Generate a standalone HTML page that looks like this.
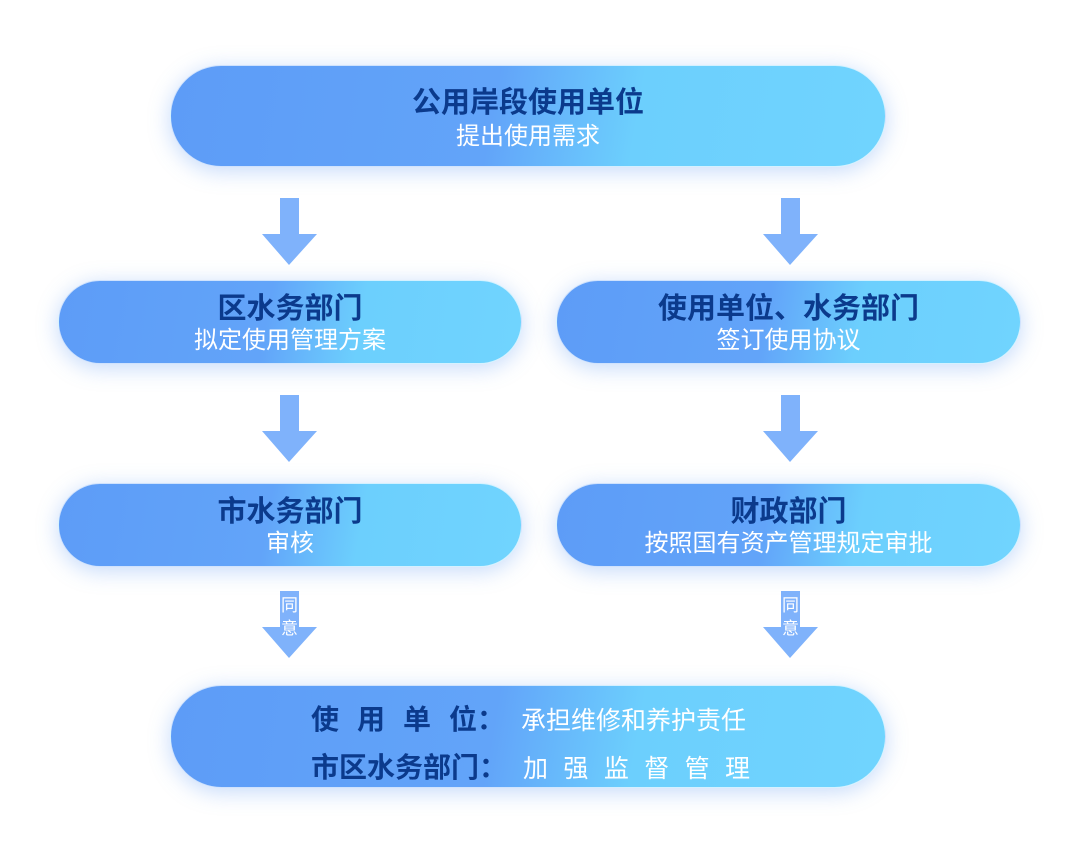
<!DOCTYPE html>
<html><head><meta charset="utf-8"><style>
*{margin:0;padding:0;box-sizing:border-box}
body{width:1080px;height:847px;background:#fff;position:relative;overflow:hidden;font-family:"Liberation Sans","Noto Sans CJK SC",sans-serif}
.pill{position:absolute;border-radius:60px;background:linear-gradient(100deg,#5d9cf7 0%,#62a4f9 45%,#6ccffd 65%,#70d4fe 100%);box-shadow:0 4px 22px rgba(90,150,240,.35);border:1.5px solid rgba(255,255,255,.7);text-align:center}
.t{color:#0b3a8c;font-weight:bold;font-size:29px;line-height:34px;position:absolute;left:0;right:0;white-space:nowrap}
.s{color:#fff;font-size:24px;line-height:30px;position:absolute;left:0;right:0;white-space:nowrap}
</style></head><body>
<div class="pill" style="left:170px;top:65px;width:716px;height:102px">
<div class="t" style="top:20px">公用岸段使用单位</div><div class="s" style="top:56px">提出使用需求</div></div>
<div class="pill" style="left:58px;top:280px;width:464px;height:84px">
<div class="t" style="top:11px">区水务部门</div><div class="s" style="top:45px">拟定使用管理方案</div></div>
<div class="pill" style="left:556px;top:280px;width:465px;height:84px">
<div class="t" style="top:11px">使用单位、水务部门</div><div class="s" style="top:45px">签订使用协议</div></div>
<div class="pill" style="left:58px;top:483px;width:464px;height:84px">
<div class="t" style="top:11px">市水务部门</div><div class="s" style="top:45px">审核</div></div>
<div class="pill" style="left:556px;top:483px;width:465px;height:84px">
<div class="t" style="top:11px">财政部门</div><div class="s" style="top:45px">按照国有资产管理规定审批</div></div>
<div class="pill" style="left:170px;top:685px;width:716px;height:103px">
<div style="position:absolute;left:140px;top:12px;text-align:left;line-height:43px;white-space:nowrap">
<div><span style="color:#0b3a8c;font-weight:bold;font-size:28px;letter-spacing:18px">使用单位</span><span style="color:#0b3a8c;font-weight:bold;font-size:28px;margin-left:-18px">：</span><span style="color:#fff;font-size:25px;margin-left:16px">承担维修和养护责任</span></div>
<div><span style="color:#0b3a8c;font-weight:bold;font-size:28px">市区水务部门：</span><span style="color:#fff;font-size:25px;letter-spacing:15.4px;margin-left:16px">加强监督管理</span></div>
</div></div>
<svg width="1080" height="847" style="position:absolute;left:0;top:0">
<g fill="#7fb2fb">
<path d="M280 198h19v36h18l-28 31-27-31h18z"/>
<path d="M781 198h19v36h18l-28 31-27-31h18z"/>
<path d="M280 395h19v36h18l-28 31-27-31h18z"/>
<path d="M781 395h19v36h18l-28 31-27-31h18z"/>
<path d="M280 591h19v36h18l-28 31-27-31h18z"/>
<path d="M781 591h19v36h18l-28 31-27-31h18z"/>
</g>
<g fill="#fff" font-size="17" font-family="Liberation Sans,Noto Sans CJK SC,sans-serif" text-anchor="middle">
<text x="289.5" y="611">同</text><text x="289.5" y="634">意</text>
<text x="790.5" y="611">同</text><text x="790.5" y="634">意</text>
</g></svg>
</body></html>
